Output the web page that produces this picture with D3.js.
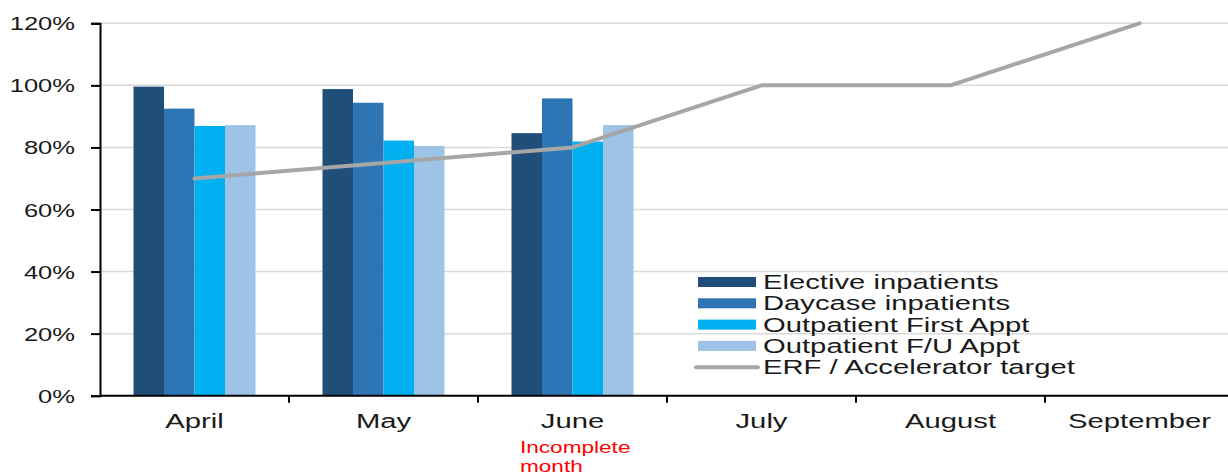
<!DOCTYPE html>
<html>
<head>
<meta charset="utf-8">
<script src="https://cdn.jsdelivr.net/npm/d3@7"></script>
<style>
  body { margin: 0; background: #fff; }
  text { font-family: "Liberation Sans", Arial, sans-serif; }
</style>
</head>
<body>
<script>
// data
var months = ["April", "May", "June", "July", "August", "September"];
var seriesNames = ["Elective inpatients", "Daycase inpatients", "Outpatient First Appt", "Outpatient F/U Appt"];
var seriesColors = ["#1f4e79", "#2e75b6", "#00b0f0", "#9dc3e6"];
var elective = [99.6, 98.8, 84.6];
var daycase = [92.5, 94.4, 95.8];
var outFirst = [86.9, 82.2, 81.9];
var outFU = [87.2, 80.5, 87.2];
var targetName = "ERF / Accelerator target";
var target = [70, 75, 80, 100, 100, 120];
var yTicks = [0, 20, 40, 60, 80, 100, 120];

var barSeries = [elective, daycase, outFirst, outFU];

//Width and height
var w = 1228;
var h = 474;
var plotLeft = 100, plotTop = 23.3, plotBottom = 395.7, plotRight = 1234;

var svg = d3.select("body")
            .append("svg")
            .attr("width", w)
            .attr("height", h);

var x = d3.scaleBand()
          .domain(months)
          .range([plotLeft, plotRight]);

var xInner = d3.scaleBand()
               .domain(d3.range(seriesNames.length))
               .range([0, 122])
               .padding(0);

var y = d3.scaleLinear()
          .domain([0, 120])
          .range([plotBottom, plotTop]);

// text in the picture is stretched sideways
function stretchedText(g, tx, ty, str, size, anchor, sx, color) {
    var t = g.append("g")
        .attr("transform", "translate(" + tx + "," + ty + ")")
        .append("text")
        .attr("transform", "scale(" + sx + ",1)")
        .attr("font-size", size)
        .attr("text-anchor", anchor)
        .attr("fill", color || "#1a1a1a")
        .text(str);
    return t;
}

// gridlines
svg.append("g").selectAll("line")
   .data(yTicks.filter(function(d) { return d > 0; }))
   .enter()
   .append("line")
   .attr("x1", plotLeft)
   .attr("x2", w)
   .attr("y1", function(d) { return y(d); })
   .attr("y2", function(d) { return y(d); })
   .attr("stroke", "#d9d9d9")
   .attr("stroke-width", 1.5);

// bars
var groups = svg.append("g").selectAll("g")
   .data(months.filter(function(m, i) { return i < elective.length; }))
   .enter()
   .append("g")
   .attr("transform", function(d) {
       return "translate(" + (x(d) + x.bandwidth() / 2 - 61) + ",0)";
   });

groups.selectAll("rect")
   .data(function(d, i) {
       return barSeries.map(function(s, k) { return {k: k, v: s[i]}; });
   })
   .enter()
   .append("rect")
   .attr("x", function(d) { return xInner(d.k); })
   .attr("width", xInner.bandwidth())
   .attr("y", function(d) { return y(d.v); })
   .attr("height", function(d) { return y(0) - y(d.v); })
   .attr("fill", function(d) { return seriesColors[d.k]; });

// target line
var line = d3.line()
    .x(function(d, i) { return x(months[i]) + x.bandwidth() / 2; })
    .y(function(d) { return y(d); });

svg.append("path")
   .datum(target)
   .attr("d", line)
   .attr("fill", "none")
   .attr("stroke", "#a6a6a6")
   .attr("stroke-width", 4)
   .attr("stroke-linecap", "round")
   .attr("stroke-linejoin", "round");

// y axis
var yAxis = d3.axisLeft(y)
    .tickValues(yTicks)
    .tickSize(9)
    .tickFormat(function(d) { return d + "%"; });

var yg = svg.append("g")
    .attr("transform", "translate(" + plotLeft + ",0)")
    .call(yAxis);
yg.select(".domain").attr("stroke", "#000").attr("stroke-width", 2);
yg.selectAll(".tick line").attr("stroke", "#000").attr("stroke-width", 2);
yg.selectAll(".tick text").remove();
yg.selectAll(".tick").each(function(d) {
    stretchedText(d3.select(this), -25, 6.5, d + "%", 18.5, "end", 1.38);
});

// x axis
var xg = svg.append("g")
    .attr("transform", "translate(0," + plotBottom + ")");
xg.append("line")
  .attr("x1", plotLeft).attr("x2", w)
  .attr("stroke", "#000").attr("stroke-width", 2);
xg.selectAll(".xtick")
  .data(months.slice(1))
  .enter()
  .append("line")
  .attr("class", "xtick")
  .attr("x1", function(d) { return x(d); })
  .attr("x2", function(d) { return x(d); })
  .attr("y1", 0).attr("y2", 7)
  .attr("stroke", "#000").attr("stroke-width", 2);
months.forEach(function(m) {
    stretchedText(xg, x(m) + x.bandwidth() / 2, 32, m, 19.5, "middle", 1.5);
});

// note under June
var note = xg.append("g").attr("transform", "translate(520,57)")
    .append("text")
    .attr("transform", "scale(1.37,1)")
    .attr("font-size", 16.5)
    .attr("fill", "#ff0000");
note.append("tspan").attr("x", 0).attr("y", 0).text("Incomplete");
note.append("tspan").attr("x", 0).attr("y", 19).text("month");

// legend
var legend = svg.append("g").attr("transform", "translate(698,282)");
var legendItems = seriesNames.concat([targetName]);
legendItems.forEach(function(name, i) {
    var row = legend.append("g").attr("transform", "translate(0," + (i * 21.3) + ")");
    if (i < seriesNames.length) {
        row.append("rect")
           .attr("x", 0).attr("y", -5)
           .attr("width", 58).attr("height", 10)
           .attr("fill", seriesColors[i]);
    } else {
        row.append("line")
           .attr("x1", -2).attr("x2", 60)
           .attr("stroke", "#a6a6a6")
           .attr("stroke-width", 4)
           .attr("stroke-linecap", "round");
    }
    stretchedText(row, 65, 7, name, 19.5, "start", 1.5);
});
</script>
</body>
</html>
